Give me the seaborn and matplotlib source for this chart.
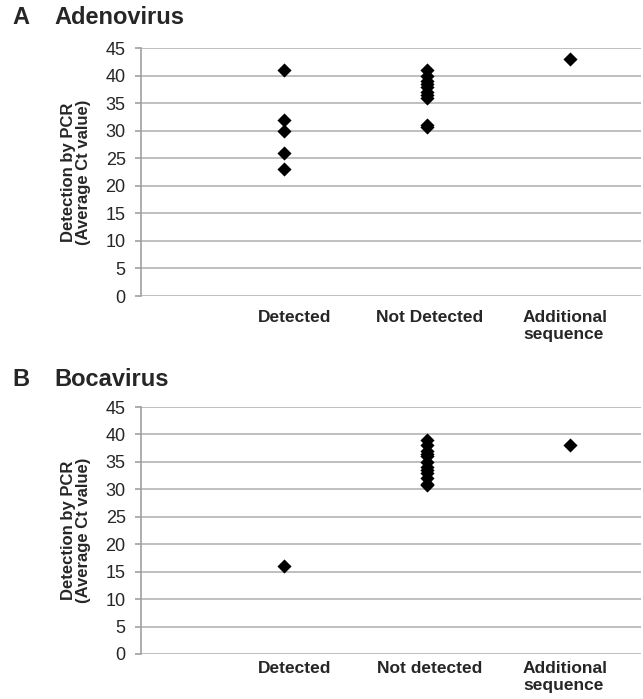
import numpy as np
import pandas as pd
import matplotlib
matplotlib.use("Agg")
import matplotlib.pyplot as plt
import matplotlib.transforms as mtransforms
import seaborn as sns

# values (average Ct value per sample)
adeno_detected = [41, 32, 30, 26, 23]
adeno_not_detected = [41, 40, 39, 38.5, 38, 37, 36.5, 36, 31, 30.7]
adeno_additional = [43]

boca_detected = [16]
boca_not_detected = [39, 38, 37, 36.5, 36, 35, 34, 33.5, 33, 32, 31, 30.8]
boca_additional = [38]

adeno_labels = ["Detected", "Not Detected", "Additional\nsequence"]
boca_labels = ["Detected", "Not detected", "Additional\nsequence"]
y_ticks = list(range(0, 50, 5))


def make_frame(groups, labels):
    rows = []
    for lab, vals in zip(labels, groups):
        for v in vals:
            rows.append({"group": lab, "ct": v})
    return pd.DataFrame(rows)


sns.set_style("white")
plt.rcParams["font.family"] = ["Liberation Sans", "DejaVu Sans"]

fig = plt.figure(figsize=(6.43, 6.99), dpi=100)

panels = [
    ("A", "Adenovirus", [adeno_detected, adeno_not_detected, adeno_additional], adeno_labels,
     [0.2193, 0.5765, 0.7776, 0.3548], 0.975, 10),
    ("B", "Bocavirus", [boca_detected, boca_not_detected, boca_additional], boca_labels,
     [0.2193, 0.0644, 0.7776, 0.3533], 0.457, 5),
]

# small horizontal nudges (points) so the category labels sit like the original
label_shift = [8, 2, -3]

for letter, name, groups, labels, rect, ty, xpad in panels:
    ax = fig.add_axes(rect)
    df = make_frame(groups, labels)
    sns.stripplot(data=df, x="group", y="ct", order=labels, jitter=False,
                  marker="D", color="black", size=7.2, linewidth=0, ax=ax)
    ax.set_xlim(-1, 2.5)
    ax.set_ylim(0, 45)
    ax.set_yticks(y_ticks)
    ax.yaxis.grid(True, color="#b4b4b4", linewidth=1.2)
    ax.set_axisbelow(True)
    for s in ["top", "right", "bottom"]:
        ax.spines[s].set_visible(False)
    ax.spines["left"].set_color("#a0a0a0")
    ax.spines["left"].set_linewidth(1.2)
    ax.tick_params(axis="y", length=4, width=1.2, color="#a0a0a0",
                   labelsize=13, pad=7, left=True)
    ax.tick_params(axis="x", length=0, pad=xpad)
    ax.set_xticks(range(len(labels)))
    ax.set_xticklabels(labels, fontsize=12.5, fontweight="bold", va="top",
                       linespacing=1.2)
    ax.get_xticklabels()[2].set_multialignment("left")
    for lbl, dx in zip(ax.get_xticklabels(), label_shift):
        lbl.set_transform(lbl.get_transform() +
                          mtransforms.ScaledTranslation(dx / 72, 0, fig.dpi_scale_trans))
    ax.set_xlabel("")
    ax.set_ylabel("Detection by PCR\n(Average Ct value)", fontsize=12,
                  fontweight="bold", linespacing=1.0)
    ax.yaxis.set_label_coords(-0.10, 0.5)
    fig.text(0.019, ty, letter, fontsize=17, fontweight="bold", va="center")
    fig.text(0.084, ty, name, fontsize=17, fontweight="bold", va="center")

fig.savefig("out.png", dpi=100)
